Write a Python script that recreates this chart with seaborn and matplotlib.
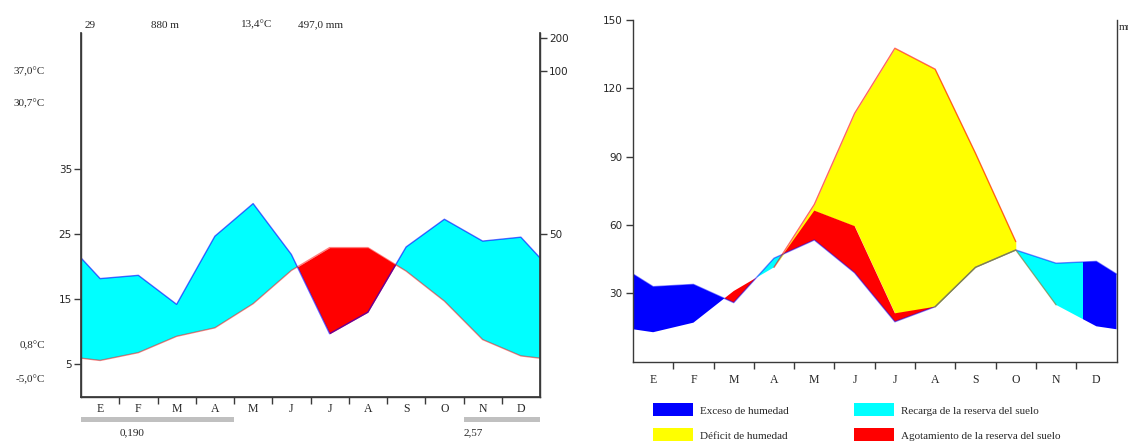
import numpy as np
import pandas as pd
import matplotlib
matplotlib.use("Agg")
import matplotlib.pyplot as plt
from matplotlib.patches import Rectangle
import seaborn as sns

# ---------------------------------------------------------------- data
months = ["E", "F", "M", "A", "M", "J", "J", "A", "S", "O", "N", "D"]

# Climate diagram (Walter-Lieth)
temp_c = [5.6, 6.8, 9.3, 10.6, 14.3, 19.4, 22.9, 22.9, 19.3, 14.7, 8.8, 6.3]
precip_mm = [36.3, 37.3, 28.4, 49.3, 59.3, 43.7, 19.4, 26.0, 46.0, 54.5, 47.8, 49.0]
station_info = ["29", "880 m", "13,4°C", "497,0 mm"]
temp_marks = ["37,0°C", "30,7°C", "0,8°C", "-5,0°C"]
temp_ticks = [5, 15, 25, 35]
precip_ticks = [50, 100, 200]
frost_start = [0, 10]
frost_end = [4, 12]
frost_labels = ["0,190", "2,57"]

# Water balance (mm)
wb_precip = [32.9, 33.9, 25.9, 45.4, 53.4, 39.0, 17.5, 24.1, 41.4, 49.0, 43.2, 44.0]
wb_etp = [12.9, 17.1, 31.0, 41.4, 69.0, 109.0, 137.6, 128.4, 91.5, 52.7, 24.9, 15.5]
wb_etr = [12.9, 17.1, 31.0, 41.4, 66.3, 59.5, 21.2, 24.1, 41.4, 49.0, 24.9, 15.5]
recharge_periods = [(2.5, 4.5), (9.5, 11.18)]
wb_ticks = [30, 60, 90, 120, 150]
legend_labels = ["Exceso de humedad", "Recarga de la reserva del suelo",
                 "Déficit de humedad", "Agotamiento de la reserva del suelo"]

# ---------------------------------------------------------------- style
sns.set_theme(style="ticks")
SERIF = ["Liberation Serif", "DejaVu Serif"]
SANS = ["DejaVu Sans"]
plt.rcParams["font.family"] = SANS

C_BLUE, C_CYAN, C_YELLOW, C_RED = "#0000ff", "#00ffff", "#ffff00", "#ff0000"
SPINE = "#3a3a3a"

W, H = 1128, 441
fig = plt.figure(figsize=(W / 100, H / 100), dpi=100)


def fx(px):
    return px / W


def fy(py):
    return 1 - py / H


def wrap(values):
    """Monthly values at month centres plus the Dec/Jan mean at both edges."""
    v = np.asarray(values, float)
    edge = (v[0] + v[-1]) / 2
    return np.r_[edge, v, edge]


def precip_scale(p):
    """Walter-Lieth scale: 20 mm per 10 C, reduced to 1/10 above 100 mm."""
    p = np.asarray(p, float)
    return np.where(p <= 100, p / 2, 50 + (p - 100) / 20)


x_ext = np.r_[0, np.arange(12) + 0.5, 12]


def month_axis(ax, label_pad):
    ax.set_xlim(0, 12)
    ax.set_xticks(np.arange(1, 12))
    ax.set_xticklabels([])
    ax.set_xticks(np.arange(12) + 0.5, minor=True)
    ax.set_xticklabels(months, minor=True, fontfamily=SERIF, fontsize=8.5)
    ax.tick_params(axis="x", which="major", length=5, width=1, color=SPINE,
                   direction="out")
    ax.tick_params(axis="x", which="minor", length=0, pad=label_pad)
    for side in ("left", "right", "bottom"):
        ax.spines[side].set_color(SPINE)
        ax.spines[side].set_linewidth(1)
    ax.spines["top"].set_visible(False)


# ---------------------------------------------------------------- climate diagram
ax1 = fig.add_axes([fx(81), fy(397), (540 - 81) / W, (397 - 33) / H])
T = wrap(temp_c)
Pp = precip_scale(wrap(precip_mm))

ax1.fill_between(x_ext, T, Pp, where=Pp >= T, interpolate=True,
                 color=C_CYAN, lw=0)
ax1.fill_between(x_ext, T, Pp, where=T >= Pp, interpolate=True,
                 color=C_RED, lw=0)

clim = pd.DataFrame({"x": x_ext, "temp": T, "precip": Pp})
sns.lineplot(data=clim, x="x", y="precip", ax=ax1, color=C_BLUE, alpha=0.6,
             lw=1, estimator=None, sort=False)
sns.lineplot(data=clim, x="x", y="temp", ax=ax1, color=C_RED, alpha=0.5,
             lw=1, estimator=None, sort=False)

ax1.set_ylim(0, 55.8)
ax1.set_xlabel("")
ax1.set_ylabel("")
month_axis(ax1, label_pad=4)
ax1.spines["right"].set_visible(True)
ax1.set_yticks(temp_ticks)
ax1.set_yticklabels([str(t) for t in temp_ticks], fontsize=7.5)
ax1.tick_params(axis="y", length=5, width=1, color=SPINE, pad=1.5)

ax1r = ax1.twinx()
ax1r.set_ylim(ax1.get_ylim())
ax1r.set_yticks(precip_scale(precip_ticks))
ax1r.set_yticklabels([str(p) for p in precip_ticks], fontsize=7.5)
ax1r.tick_params(axis="y", length=5, width=1, color=SPINE, pad=1.5)
for side in ("left", "right", "bottom"):
    ax1r.spines[side].set_color(SPINE)
ax1r.spines["top"].set_visible(False)

# frost periods under the month axis
for s, e, lab in zip(frost_start, frost_end, frost_labels):
    ax1.add_patch(Rectangle((s, -0.0695), e - s, 0.0155, color="#c0c0c0",
                            transform=ax1.get_xaxis_transform(), clip_on=False,
                            lw=0))
    ax1.text(s + (1.0 if s == 0 else 0.0), -0.097, lab,
             transform=ax1.get_xaxis_transform(), ha="left", va="center",
             fontfamily=SERIF, fontsize=8)

# station header
for px, txt in zip([85, 151, 241, 298], station_info):
    fig.text(fx(px), fy(25), txt, ha="left", va="center",
             fontfamily=SERIF, fontsize=8)

# temperature extremes on the left margin
for py, txt in zip([72, 104, 345.5, 379.5], temp_marks):
    fig.text(fx(45), fy(py), txt, ha="right", va="center",
             fontfamily=SERIF, fontsize=8)

# ---------------------------------------------------------------- water balance
ax2 = fig.add_axes([fx(633), fy(361.6), (1116.5 - 633) / W, (361.6 - 20) / H])
P2 = wrap(wb_precip)
E2 = wrap(wb_etp)
R2 = wrap(wb_etr)

deficit = E2 > R2 + 1e-9
deficit_draw = deficit | np.r_[deficit[1:], False]
ax2.fill_between(x_ext, R2, E2, where=deficit_draw, color=C_YELLOW, lw=0)
ax2.fill_between(x_ext, P2, R2, where=R2 > P2, interpolate=True,
                 color=C_RED, lw=0)

surplus = P2 > R2
bounds = [0.0]
for a, b in recharge_periods:
    bounds += [a, b]
bounds.append(12.0)
excess_spans = [(bounds[i], bounds[i + 1]) for i in range(0, len(bounds), 2)]
for spans, col in ((excess_spans, C_BLUE), (recharge_periods, C_CYAN)):
    for a, b in spans:
        poly = ax2.fill_between(x_ext, R2, P2, where=surplus, interpolate=True,
                                color=col, lw=0)
        clip = Rectangle((a, -10), b - a, 200, transform=ax2.transData)
        poly.set_clip_path(clip)

bal = pd.DataFrame({"x": x_ext, "p": P2, "etp": E2, "etr": R2})
sns.lineplot(data=bal, x="x", y="p", ax=ax2, color=C_BLUE, alpha=0.5, lw=1,
             estimator=None, sort=False)
sns.lineplot(data=bal.iloc[4:11], x="x", y="etp", ax=ax2, color=C_RED,
             alpha=0.6, lw=1, estimator=None, sort=False)
sns.lineplot(data=bal.iloc[8:12], x="x", y="etr", ax=ax2, color="#7f8040",
             alpha=0.7, lw=0.9, estimator=None, sort=False)

ax2.set_ylim(0, 150)
ax2.set_xlabel("")
ax2.set_ylabel("")
month_axis(ax2, label_pad=9)
ax2.set_yticks(wb_ticks)
ax2.set_yticklabels([str(t) for t in wb_ticks], fontsize=7.5)
ax2.tick_params(axis="y", length=5, width=1, color=SPINE, pad=2.5)

fig.text(fx(1119), fy(27), "mm", ha="left", va="center",
         fontfamily=SERIF, fontsize=8)

# legend
legend_colors = [C_BLUE, C_CYAN, C_YELLOW, C_RED]
legend_xy = [(653, 403), (854, 403), (653, 428), (854, 428)]
for (lx, ly), col, lab in zip(legend_xy, legend_colors, legend_labels):
    fig.add_artist(Rectangle((fx(lx), fy(ly + 12.5)), 40 / W, 12.5 / H,
                             transform=fig.transFigure, color=col, lw=0))
    fig.text(fx(lx + 47), fy(ly + 8.5), lab, ha="left", va="center",
             fontfamily=SERIF, fontsize=8)

fig.savefig("out.png", dpi=100, facecolor="white")
